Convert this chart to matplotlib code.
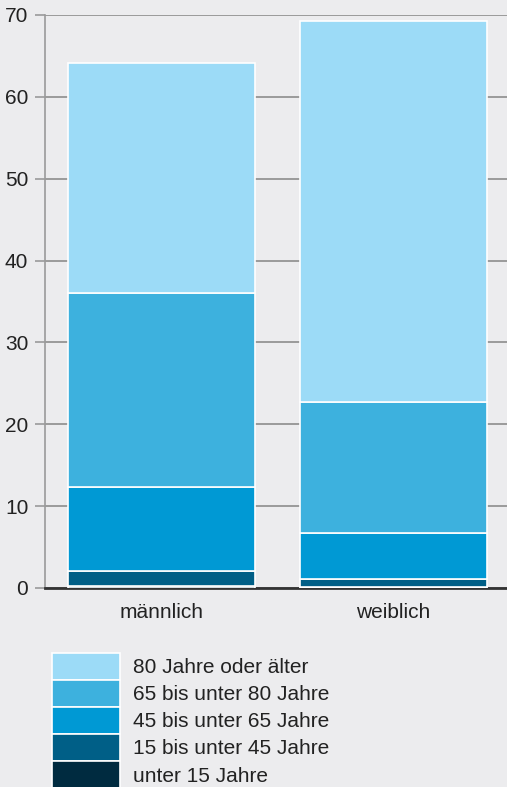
import matplotlib
matplotlib.use("Agg")
import matplotlib.pyplot as plt
from matplotlib.patches import Patch
import numpy as np

plt.rcParams['font.family'] = ['Liberation Sans', 'DejaVu Sans']

# data (Anteil, gestapelt)
groups = ["männlich", "weiblich"]
labels = ["unter 15 Jahre", "15 bis unter 45 Jahre", "45 bis unter 65 Jahre",
          "65 bis unter 80 Jahre", "80 Jahre oder älter"]
u15 = [0.2, 0.1]
a15_45 = [1.9, 0.95]
a45_65 = [10.2, 5.65]
a65_80 = [23.7, 16.0]
a80 = [28.1, 46.6]
colors = ["#002b40", "#005f87", "#0099d4", "#3db1de", "#9cdbf7"]

bg = "#ececee"
fig = plt.figure(figsize=(5.07, 7.87), dpi=100, facecolor=bg)
ax = fig.add_axes([0.0888, 0.2529, 0.9112, 0.7281], facecolor=bg)

x = np.arange(len(groups))
bottom = np.zeros(len(groups))
for vals, c, lab in zip([u15, a15_45, a45_65, a65_80, a80], colors, labels):
    ax.bar(x, vals, bottom=bottom, width=0.806, color=c, edgecolor="white",
           linewidth=1.2, zorder=3, label=lab)
    bottom += np.array(vals)

ax.set_xlim(-0.502, 1.489)
ax.set_ylim(0, 70)
ax.set_yticks(range(0, 71, 10))
ax.set_xticks(x)
ax.set_xticklabels(groups)
ax.yaxis.grid(True, color="#9a9a9a", linewidth=1.4, zorder=0)
ax.set_axisbelow(True)
for s in ["top", "right"]:
    ax.spines[s].set_visible(False)
ax.spines["left"].set_color("#9a9a9a")
ax.spines["left"].set_linewidth(1.2)
ax.spines["bottom"].set_color("#333333")
ax.spines["bottom"].set_linewidth(2)
ax.tick_params(axis="y", length=7, width=1.2, color="#9a9a9a", labelsize=15,
               labelcolor="#222222", pad=5)
ax.tick_params(axis="x", length=0, labelsize=15, labelcolor="#222222", pad=11)

handles = [Patch(facecolor=c, edgecolor="white", linewidth=1.2) for c in colors[::-1]]
fig.legend(handles, labels[::-1], loc="upper left",
           bbox_to_anchor=(52 / 507, 1 - 653 / 787), frameon=False,
           fontsize=15, handlelength=3.27, handleheight=1.62,
           labelspacing=0.0, handletextpad=0.6, borderpad=0, borderaxespad=0,
           labelcolor="#222222")

fig.savefig("out.png", dpi=100, facecolor=bg)
